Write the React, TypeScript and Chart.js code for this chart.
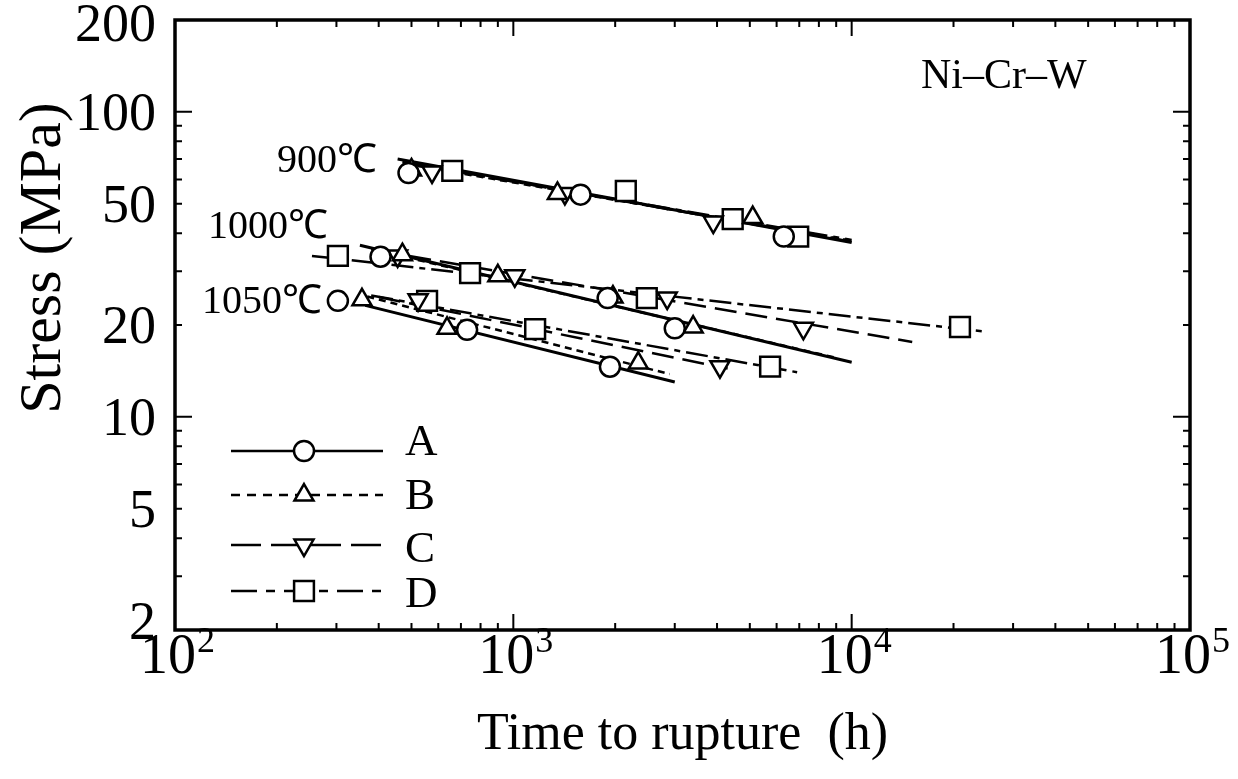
import React, { useEffect, useRef } from "react";
import { Chart, registerables } from "chart.js";
Chart.register(...registerables);

type P = { x: number; y: number };

// ---------------- axes ----------------
const xMin = 100;
const xMax = 100000;
const yMin = 2;
const yMax = 200;
const xTickValues = [
  200, 300, 400, 500, 600, 700, 800, 900, 1000,
  2000, 3000, 4000, 5000, 6000, 7000, 8000, 9000, 10000,
  20000, 30000, 40000, 50000, 60000, 70000, 80000, 90000,
];
const xMajorTicks = [1000, 10000];
const xTickLabels: [number, string, string][] = [
  [100, "10", "2"],
  [1000, "10", "3"],
  [10000, "10", "4"],
  [100000, "10", "5"],
];
const yTickValues = [3, 4, 5, 6, 7, 8, 9, 10, 20, 30, 40, 50, 60, 70, 80, 90, 100];
const yMajorTicks = [10, 100];
const yTickLabels = [2, 5, 10, 20, 50, 100, 200];
const xTitle = "Time to rupture  (h)";
const yTitle = "Stress (MPa)";
const alloyLabel = "Ni\u2013Cr\u2013W";
const tempLabels = ["900\u2103", "1000\u2103", "1050\u2103"];

// ---------------- measured points (time h, stress MPa) ----------------
const A900: P[] = [{ x: 490, y: 63 }, { x: 1580, y: 53.5 }, { x: 6300, y: 39 }];
const B900: P[] = [{ x: 500, y: 64.5 }, { x: 1350, y: 54 }, { x: 5100, y: 45 }];
const C900: P[] = [{ x: 575, y: 63.5 }, { x: 1420, y: 54 }, { x: 3900, y: 43.5 }];
const D900: P[] = [{ x: 660, y: 64 }, { x: 2150, y: 55 }, { x: 4450, y: 44.5 }, { x: 6950, y: 39 }];

const A1000: P[] = [{ x: 405, y: 33.5 }, { x: 1900, y: 24.5 }, { x: 3000, y: 19.5 }];
const B1000: P[] = [{ x: 470, y: 34 }, { x: 900, y: 29 }, { x: 1970, y: 24.7 }, { x: 3400, y: 19.7 }];
const C1000: P[] = [{ x: 455, y: 33.7 }, { x: 1010, y: 29 }, { x: 2850, y: 24.5 }, { x: 7200, y: 19.5 }];
const D1000: P[] = [{ x: 303, y: 33.7 }, { x: 745, y: 29.6 }, { x: 2480, y: 24.5 }, { x: 20900, y: 19.7 }];

const A1050: P[] = [{ x: 303, y: 24 }, { x: 730, y: 19.3 }, { x: 1930, y: 14.6 }];
const B1050: P[] = [{ x: 357, y: 24.2 }, { x: 637, y: 19.5 }, { x: 2340, y: 15 }];
const C1050: P[] = [{ x: 523, y: 24.2 }, { x: 4080, y: 14.6 }];
const D1050: P[] = [{ x: 556, y: 24 }, { x: 1160, y: 19.4 }, { x: 5740, y: 14.6 }];

// ---------------- fitted lines (end points) ----------------
const A900fit: P[] = [{ x: 455, y: 70 }, { x: 10000, y: 37.3 }];
const B900fit: P[] = [{ x: 480, y: 67.5 }, { x: 10000, y: 37.8 }];
const C900fit: P[] = [{ x: 470, y: 68.5 }, { x: 10000, y: 37.5 }];
const D900fit: P[] = [{ x: 500, y: 67.5 }, { x: 10000, y: 38 }];

const A1000fit: P[] = [{ x: 352, y: 36.5 }, { x: 10000, y: 15.1 }];
const B1000fit: P[] = [{ x: 380, y: 35.5 }, { x: 9000, y: 15.6 }];
const C1000fit: P[] = [{ x: 400, y: 35 }, { x: 15100, y: 17.6 }];
const D1000fit: P[] = [{ x: 254, y: 33.7 }, { x: 25100, y: 19.0 }];

const A1050fit: P[] = [{ x: 365, y: 23.2 }, { x: 3000, y: 13.0 }];
const B1050fit: P[] = [{ x: 370, y: 24.8 }, { x: 2900, y: 13.8 }];
const C1050fit: P[] = [{ x: 400, y: 24.7 }, { x: 4300, y: 14.4 }];
const D1050fit: P[] = [{ x: 380, y: 25 }, { x: 6900, y: 14.0 }];

const seriesNames = ["A", "B", "C", "D"];

// ---------------- styles ----------------
const FONT = "'Liberation Serif', 'Times New Roman', serif";
const dashes: number[][] = [[], [7, 5], [22, 9], [22, 6, 6, 6]];
const legendDashes: number[][] = [[], [9, 7], [30, 10], [26, 9, 9, 9]];
const styles = [
  { pointStyle: "circle", radius: 10, rotation: 0 },
  { pointStyle: "triangle", radius: 11, rotation: 0 },
  { pointStyle: "triangle", radius: 11, rotation: 180 },
  { pointStyle: "rect", radius: 14, rotation: 0 },
];

function markerPath(ctx: CanvasRenderingContext2D, kind: number, x: number, y: number) {
  const s = styles[kind];
  const r = s.radius;
  ctx.beginPath();
  if (s.pointStyle === "circle") {
    ctx.arc(x, y, r, 0, Math.PI * 2);
  } else if (s.pointStyle === "triangle") {
    let rad = (s.rotation * Math.PI) / 180;
    ctx.moveTo(x + Math.sin(rad) * r, y - Math.cos(rad) * r);
    rad += (2 * Math.PI) / 3;
    ctx.lineTo(x + Math.sin(rad) * r, y - Math.cos(rad) * r);
    rad += (2 * Math.PI) / 3;
    ctx.lineTo(x + Math.sin(rad) * r, y - Math.cos(rad) * r);
    ctx.closePath();
  } else {
    const h = Math.SQRT1_2 * r;
    ctx.rect(x - h, y - h, 2 * h, 2 * h);
  }
}

const yLabelShift: Record<number, number> = { 2: -9, 200: 3 };

const decor = {
  id: "decor",
  afterDatasetsDraw(chart: any) {
    const { ctx, chartArea: ca, scales } = chart;
    const xs = scales.x;
    const ys = scales.y;
    ctx.save();
    ctx.setLineDash([]);
    ctx.strokeStyle = "#000";
    ctx.fillStyle = "#000";

    // tick marks (inside, all four sides)
    ctx.lineWidth = 2;
    ctx.beginPath();
    for (const v of xTickValues) {
      const px = xs.getPixelForValue(v);
      const len = xMajorTicks.includes(v) ? 16 : 7;
      ctx.moveTo(px, ca.bottom);
      ctx.lineTo(px, ca.bottom - len);
      ctx.moveTo(px, ca.top);
      ctx.lineTo(px, ca.top + len);
    }
    for (const v of yTickValues) {
      const py = ys.getPixelForValue(v);
      const len = yMajorTicks.includes(v) ? 17 : 7;
      ctx.moveTo(ca.left, py);
      ctx.lineTo(ca.left + len, py);
      ctx.moveTo(ca.right, py);
      ctx.lineTo(ca.right - len, py);
    }
    ctx.stroke();

    // frame
    ctx.lineWidth = 3.5;
    ctx.strokeRect(ca.left, ca.top, ca.right - ca.left, ca.bottom - ca.top);

    // y tick labels
    ctx.font = `54px ${FONT}`;
    ctx.textAlign = "right";
    ctx.textBaseline = "alphabetic";
    for (const v of yTickLabels) {
      const py = ys.getPixelForValue(v) + (yLabelShift[v] || 0);
      ctx.fillText(String(v), ca.left - 19, py + 18);
    }

    // x tick labels with superscript exponent
    for (const [v, base, exp] of xTickLabels) {
      const px = xs.getPixelForValue(v);
      ctx.font = `56px ${FONT}`;
      const wb = ctx.measureText(base).width;
      ctx.font = `36px ${FONT}`;
      const we = ctx.measureText(exp).width;
      const left = px - (wb + we) / 2 + 2;
      ctx.textAlign = "left";
      ctx.font = `56px ${FONT}`;
      ctx.fillText(base, left, ca.bottom + 43);
      ctx.font = `36px ${FONT}`;
      ctx.fillText(exp, left + wb + 1, ca.bottom + 22);
    }

    // axis titles
    ctx.font = `52px ${FONT}`;
    ctx.textAlign = "center";
    ctx.fillText(xTitle, (ca.left + ca.right) / 2, 749);
    ctx.save();
    ctx.translate(60, 258);
    ctx.rotate(-Math.PI / 2);
    ctx.font = `60px ${FONT}`;
    ctx.fillText(yTitle, 0, 0);
    ctx.restore();

    // annotations
    ctx.textAlign = "left";
    ctx.font = `42px ${FONT}`;
    ctx.fillText(alloyLabel, 921, 88);
    ctx.font = `40px ${FONT}`;
    ctx.fillText(tempLabels[0], 277, 172);
    ctx.fillText(tempLabels[1], 208, 238);
    ctx.fillText(tempLabels[2], 202, 313);

    // legend
    const rows = [451, 495, 545, 591];
    const textY = [455, 509, 562, 607];
    for (let i = 0; i < 4; i++) {
      const y = rows[i];
      ctx.lineWidth = 2.5;
      ctx.setLineDash(legendDashes[i]);
      ctx.beginPath();
      ctx.moveTo(231, y);
      ctx.lineTo(383, y);
      ctx.stroke();
      ctx.setLineDash([]);
      markerPath(ctx, i, 304, y);
      ctx.fillStyle = "#fff";
      ctx.fill();
      ctx.lineWidth = 2.5;
      ctx.stroke();
      ctx.fillStyle = "#000";
      ctx.font = `45px ${FONT}`;
      ctx.fillText(seriesNames[i], 405, textY[i]);
    }
    ctx.restore();
  },
};

function pointSet(data: P[], kind: number) {
  const s = styles[kind];
  return {
    data,
    showLine: false,
    pointStyle: s.pointStyle,
    pointRadius: s.radius,
    pointRotation: s.rotation,
    pointBorderWidth: 2.5,
    pointBorderColor: "#000",
    pointBackgroundColor: "#fff",
    order: 0,
  };
}

function fitSet(data: P[], kind: number) {
  return {
    data,
    showLine: true,
    borderColor: "#000",
    borderWidth: kind === 0 ? 3 : 2.5,
    borderDash: dashes[kind],
    pointRadius: 0,
    fill: false,
    order: 1,
  };
}

export default function App() {
  const ref = useRef<HTMLCanvasElement | null>(null);
  useEffect(() => {
    if (!ref.current) return;
    const points = [
      [A900, B900, C900, D900],
      [A1000, B1000, C1000, D1000],
      [A1050, B1050, C1050, D1050],
    ];
    const fits = [
      [A900fit, B900fit, C900fit, D900fit],
      [A1000fit, B1000fit, C1000fit, D1000fit],
      [A1050fit, B1050fit, C1050fit, D1050fit],
    ];
    const datasets: any[] = [];
    points.forEach((group) => group.forEach((d, k) => datasets.push(pointSet(d, k))));
    fits.forEach((group) => group.forEach((d, k) => datasets.push(fitSet(d, k))));

    const chart = new Chart(ref.current, {
      type: "scatter",
      data: { datasets },
      options: {
        animation: false,
        responsive: true,
        maintainAspectRatio: false,
        layout: { padding: { left: 175, top: 20, right: 48, bottom: 149 } },
        plugins: { legend: { display: false }, tooltip: { enabled: false } },
        scales: {
          x: { type: "logarithmic", min: xMin, max: xMax, display: false },
          y: { type: "logarithmic", min: yMin, max: yMax, display: false },
        },
      },
      plugins: [decor],
    } as any);
    return () => chart.destroy();
  }, []);
  return (
    <div style={{ position: "absolute", left: 0, top: 0, width: 1238, height: 779, background: "#fff" }}>
      <canvas ref={ref} />
    </div>
  );
}
